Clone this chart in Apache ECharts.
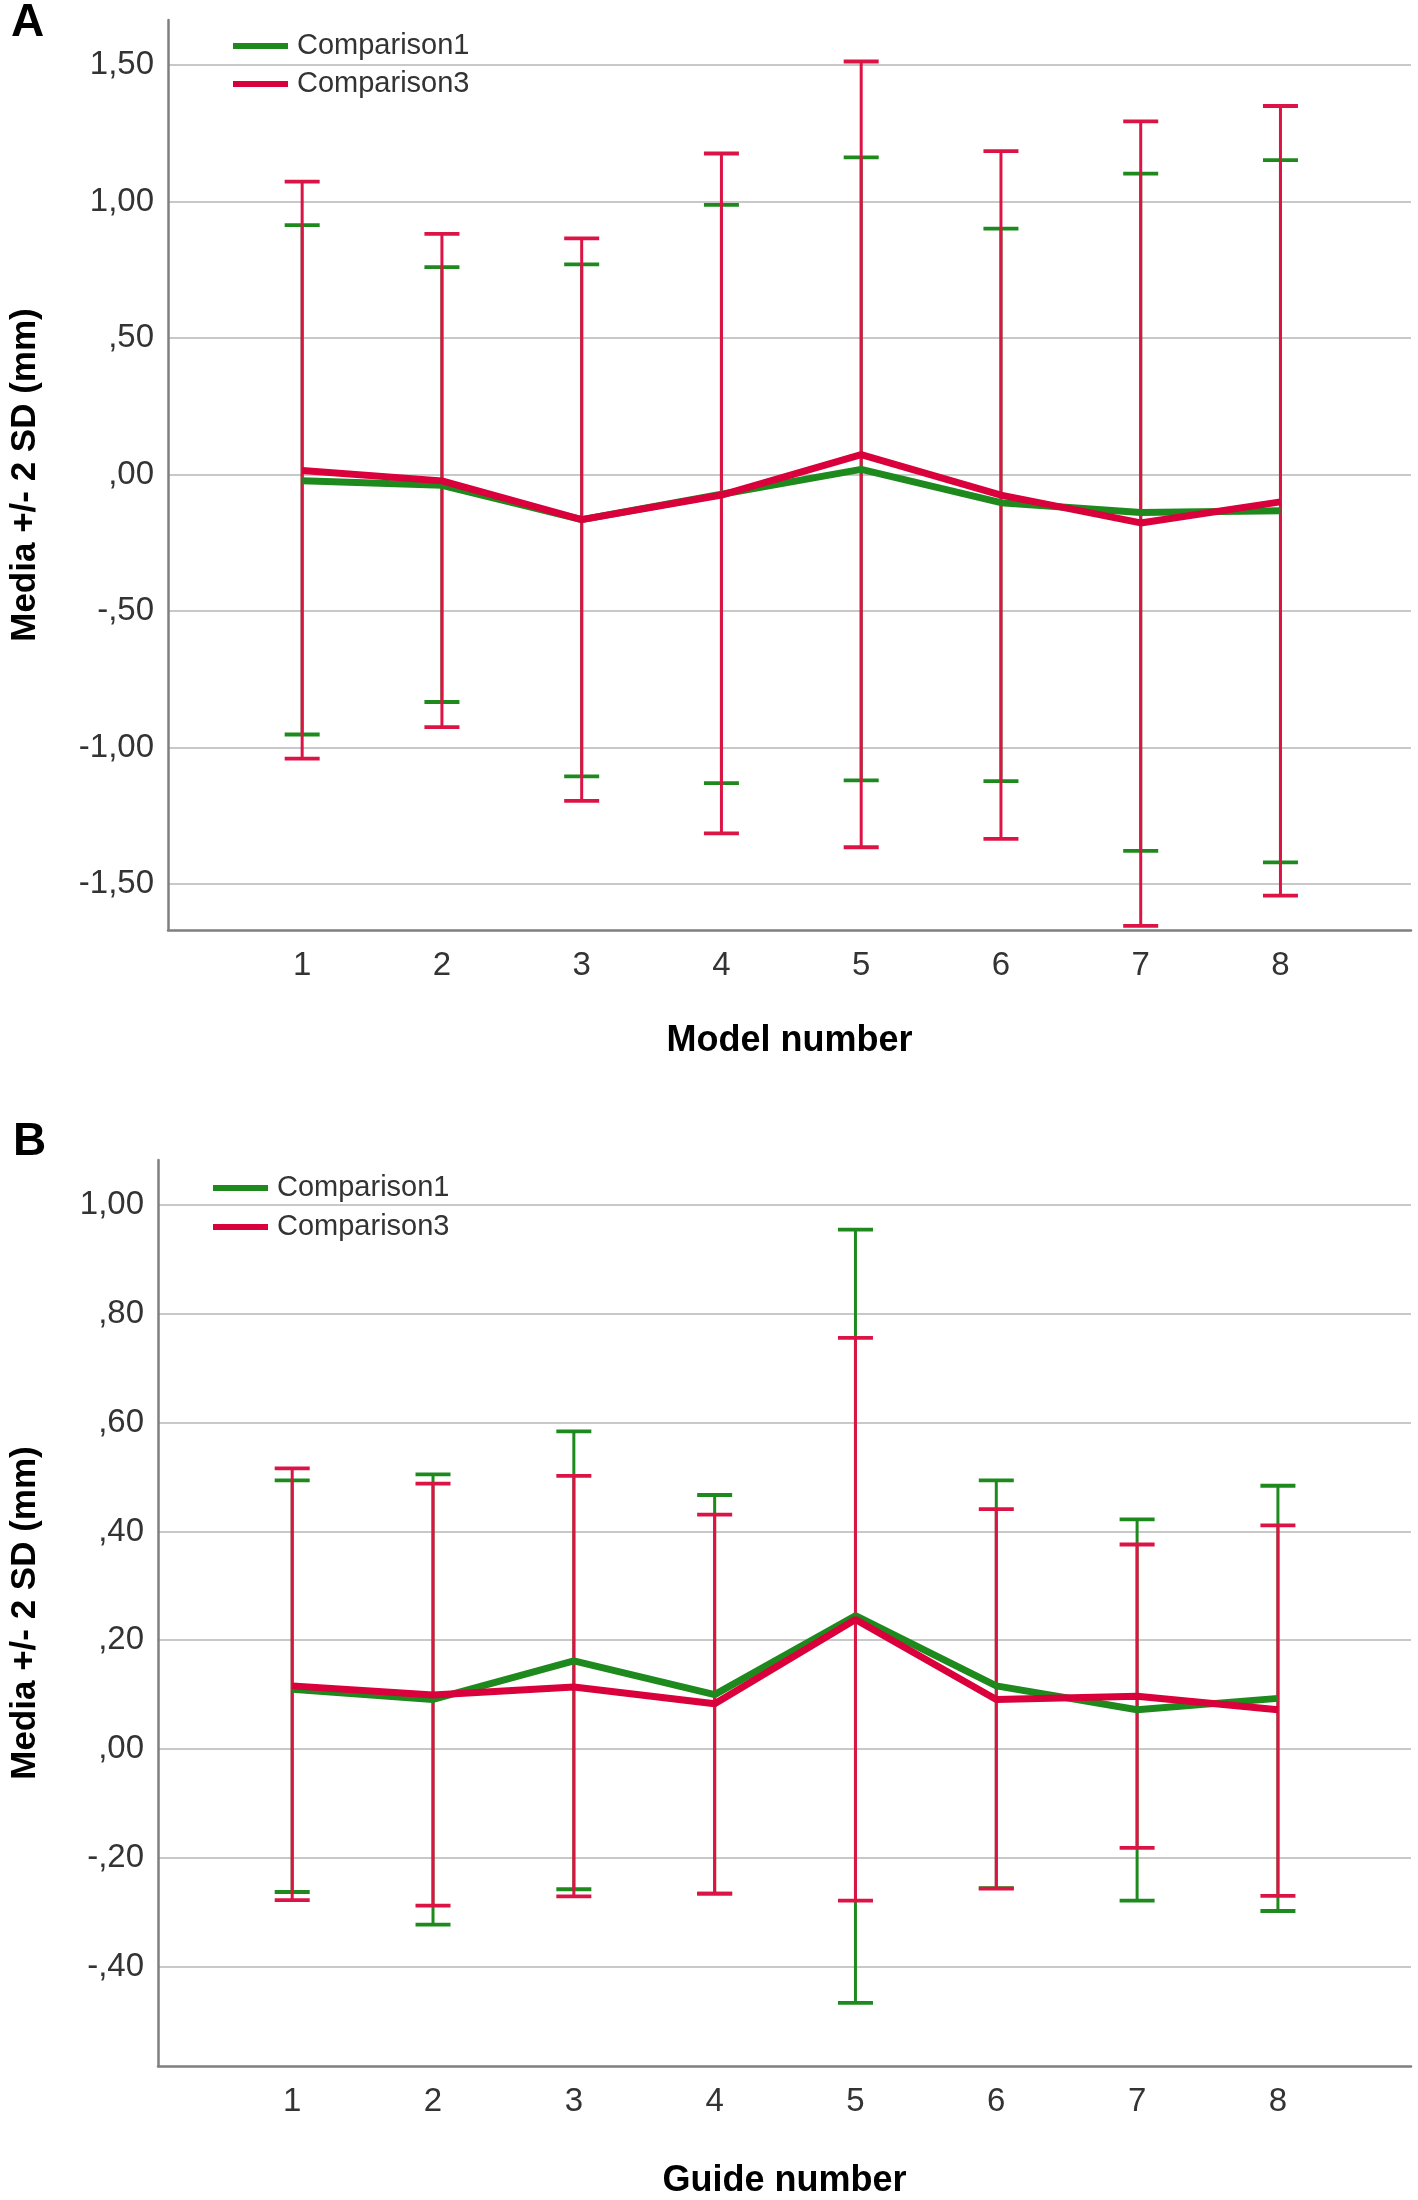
<!DOCTYPE html>
<html>
<head>
<meta charset="utf-8">
<script src="https://cdn.jsdelivr.net/npm/echarts@6/dist/echarts.min.js"></script>
<style>
html,body{margin:0;padding:0;background:#fff;}
#chart{width:1418px;height:2200px;}
</style>
</head>
<body>
<div id="chart"></div>
<script>
// ---------- data ----------
const categories = [1, 2, 3, 4, 5, 6, 7, 8];
const seriesNames = ['Comparison1', 'Comparison3'];

// Panel A: Model number
const meanA1  = [-0.023, -0.039, -0.165, -0.072, 0.019, -0.103, -0.139, -0.132];
const meanA3  = [0.015, -0.023, -0.165, -0.075, 0.073, -0.075, -0.177, -0.100];
const upperA1 = [0.914, 0.760, 0.770, 0.988, 1.162, 0.901, 1.102, 1.152];
const upperA3 = [1.073, 0.882, 0.865, 1.176, 1.513, 1.185, 1.294, 1.350];
const lowerA1 = [-0.952, -0.833, -1.105, -1.130, -1.120, -1.123, -1.378, -1.420];
const lowerA3 = [-1.040, -0.925, -1.195, -1.314, -1.365, -1.334, -1.653, -1.542];

// Panel B: Guide number
const meanB1  = [0.110, 0.091, 0.162, 0.100, 0.245, 0.116, 0.072, 0.093];
const meanB3  = [0.116, 0.099, 0.114, 0.083, 0.238, 0.091, 0.097, 0.072];
const upperB1 = [0.494, 0.505, 0.584, 0.467, 0.955, 0.494, 0.422, 0.484];
const upperB3 = [0.516, 0.488, 0.502, 0.431, 0.756, 0.441, 0.376, 0.411];
const lowerB1 = [-0.263, -0.323, -0.258, -0.266, -0.467, -0.256, -0.279, -0.298];
const lowerB3 = [-0.278, -0.288, -0.271, -0.266, -0.279, -0.257, -0.182, -0.270];

const panelLabels = ['A', 'B'];
const xTitles = ['Model number', 'Guide number'];
const yTitle = 'Media +/- 2 SD (mm)';

// ---------- styling ----------
const FONT = "'Liberation Sans', Arial, sans-serif";
const GREEN = '#1e8a1e';
const RED = '#d9003b';
const RED_BAR = '#dc1446';
const GRID_COLOR = '#c8c8c8';
const AXIS_COLOR = '#7f7f7f';

function spssFmt(step) {
  return function (v) {
    if (Math.abs(v / step - Math.round(v / step)) > 1e-6) return '';
    let s = Math.abs(v).toFixed(2).replace('.', ',');
    if (s.startsWith('0,')) s = s.slice(1);
    return (v < -1e-9 ? '-' : '') + s;
  };
}

function pairs(lo, hi) {
  return categories.map((c, i) => [c, lo[i], hi[i]]);
}
function pts(m) {
  return categories.map((c, i) => [c, m[i]]);
}

function errBar(color) {
  return function (params, api) {
    const x = api.value(0);
    const pLo = api.coord([x, api.value(1)]);
    const pHi = api.coord([x, api.value(2)]);
    const hw = 17.5;
    return {
      type: 'group',
      children: [
        { type: 'line', shape: { x1: pLo[0], y1: pLo[1], x2: pHi[0], y2: pHi[1] }, style: { stroke: color, lineWidth: 3 } },
        { type: 'line', shape: { x1: pLo[0] - hw, y1: pLo[1], x2: pLo[0] + hw, y2: pLo[1] }, style: { stroke: color, lineWidth: 3.8 } },
        { type: 'line', shape: { x1: pHi[0] - hw, y1: pHi[1], x2: pHi[0] + hw, y2: pHi[1] }, style: { stroke: color, lineWidth: 3.8 } }
      ]
    };
  };
}

function xAxisCfg(idx, min, max, title, gap) {
  return {
    type: 'value', gridIndex: idx, min: min, max: max,
    splitNumber: 9, minInterval: 1, maxInterval: 1,
    axisLine: { show: true, onZero: false, lineStyle: { color: AXIS_COLOR, width: 2.5 } },
    axisTick: { show: false },
    splitLine: { show: false },
    axisLabel: {
      margin: 19, fontSize: 33, color: '#333', fontFamily: FONT,
      showMinLabel: false, showMaxLabel: false,
      formatter: v => (categories.indexOf(Math.round(v)) >= 0 && Math.abs(v - Math.round(v)) < 1e-6) ? String(Math.round(v)) : ''
    },
    name: title, nameLocation: 'middle', nameGap: gap,
    nameTextStyle: { fontSize: 36, fontWeight: 'bold', color: '#000', fontFamily: FONT }
  };
}

function yAxisCfg(idx, min, max, step, splitN, gap, margin) {
  return {
    type: 'value', gridIndex: idx, min: min, max: max,
    splitNumber: splitN, minInterval: step, maxInterval: step,
    axisLine: { show: true, onZero: false, lineStyle: { color: AXIS_COLOR, width: 2.5 } },
    axisTick: { show: false },
    splitLine: { show: true, showMinLine: false, showMaxLine: false, lineStyle: { color: GRID_COLOR, width: 2.2 } },
    axisLabel: {
      margin: margin, fontSize: 33, color: '#333', fontFamily: FONT,
      showMinLabel: false, showMaxLabel: false,
      formatter: spssFmt(step)
    },
    name: yTitle, nameLocation: 'middle', nameRotate: 90, nameGap: gap,
    nameTextStyle: { fontSize: 35, fontWeight: 'bold', color: '#000', fontFamily: FONT }
  };
}

function legendCfg(left, top, gap) {
  return {
    data: seriesNames, orient: 'vertical', left: left, top: top,
    itemWidth: 55, itemHeight: 6, itemGap: gap, icon: 'rect',
    selectedMode: false,
    textStyle: { fontSize: 29, color: '#333', fontFamily: FONT, lineHeight: 30, padding: [0, 0, 0, 4] }
  };
}

function lineSeries(name, data, color, idx) {
  return {
    type: 'line', name: name, xAxisIndex: idx, yAxisIndex: idx,
    data: data, symbol: 'none', z: 4,
    lineStyle: { color: color, width: 7 },
    itemStyle: { color: color }, color: color
  };
}
function barSeries(name, data, color, idx) {
  return {
    type: 'custom', name: name, xAxisIndex: idx, yAxisIndex: idx,
    data: data, renderItem: errBar(color), z: 3,
    encode: { x: 0, y: [1, 2] }, clip: false, silent: true
  };
}

const option = {
  backgroundColor: '#fff',
  animation: false,
  grid: [
    { left: 162, right: 7, top: 20, height: 910 },
    { left: 152, right: 7, top: 1160, height: 913 }
  ],
  xAxis: [
    xAxisCfg(0, 0.04, 8.934, xTitles[0], 93),
    xAxisCfg(1, 0.047, 8.945, xTitles[1], 97)
  ],
  yAxis: [
    yAxisCfg(0, -1.668, 1.665, 0.5, 7, 125, 14),
    yAxisCfg(1, -0.583, 1.083, 0.2, 8, 115, 14)
  ],
  legend: [
    legendCfg(228, 26, 8),
    legendCfg(208, 1168, 9)
  ],
  graphic: [
    { type: 'text', left: 11, top: 0, style: { text: panelLabels[0], font: "bold 46px " + FONT, fill: '#000' } },
    { type: 'text', left: 13, top: 1119, style: { text: panelLabels[1], font: "bold 46px " + FONT, fill: '#000' } }
  ],
  series: [
    barSeries('barA1', pairs(lowerA1, upperA1), GREEN, 0),
    barSeries('barA3', pairs(lowerA3, upperA3), RED_BAR, 0),
    lineSeries(seriesNames[0], pts(meanA1), GREEN, 0),
    lineSeries(seriesNames[1], pts(meanA3), RED, 0),
    barSeries('barB1', pairs(lowerB1, upperB1), GREEN, 1),
    barSeries('barB3', pairs(lowerB3, upperB3), RED_BAR, 1),
    lineSeries(seriesNames[0], pts(meanB1), GREEN, 1),
    lineSeries(seriesNames[1], pts(meanB3), RED, 1)
  ]
};

const chart = echarts.init(document.getElementById('chart'), null, { renderer: 'canvas' });
chart.setOption(option);
</script>
</body>
</html>
